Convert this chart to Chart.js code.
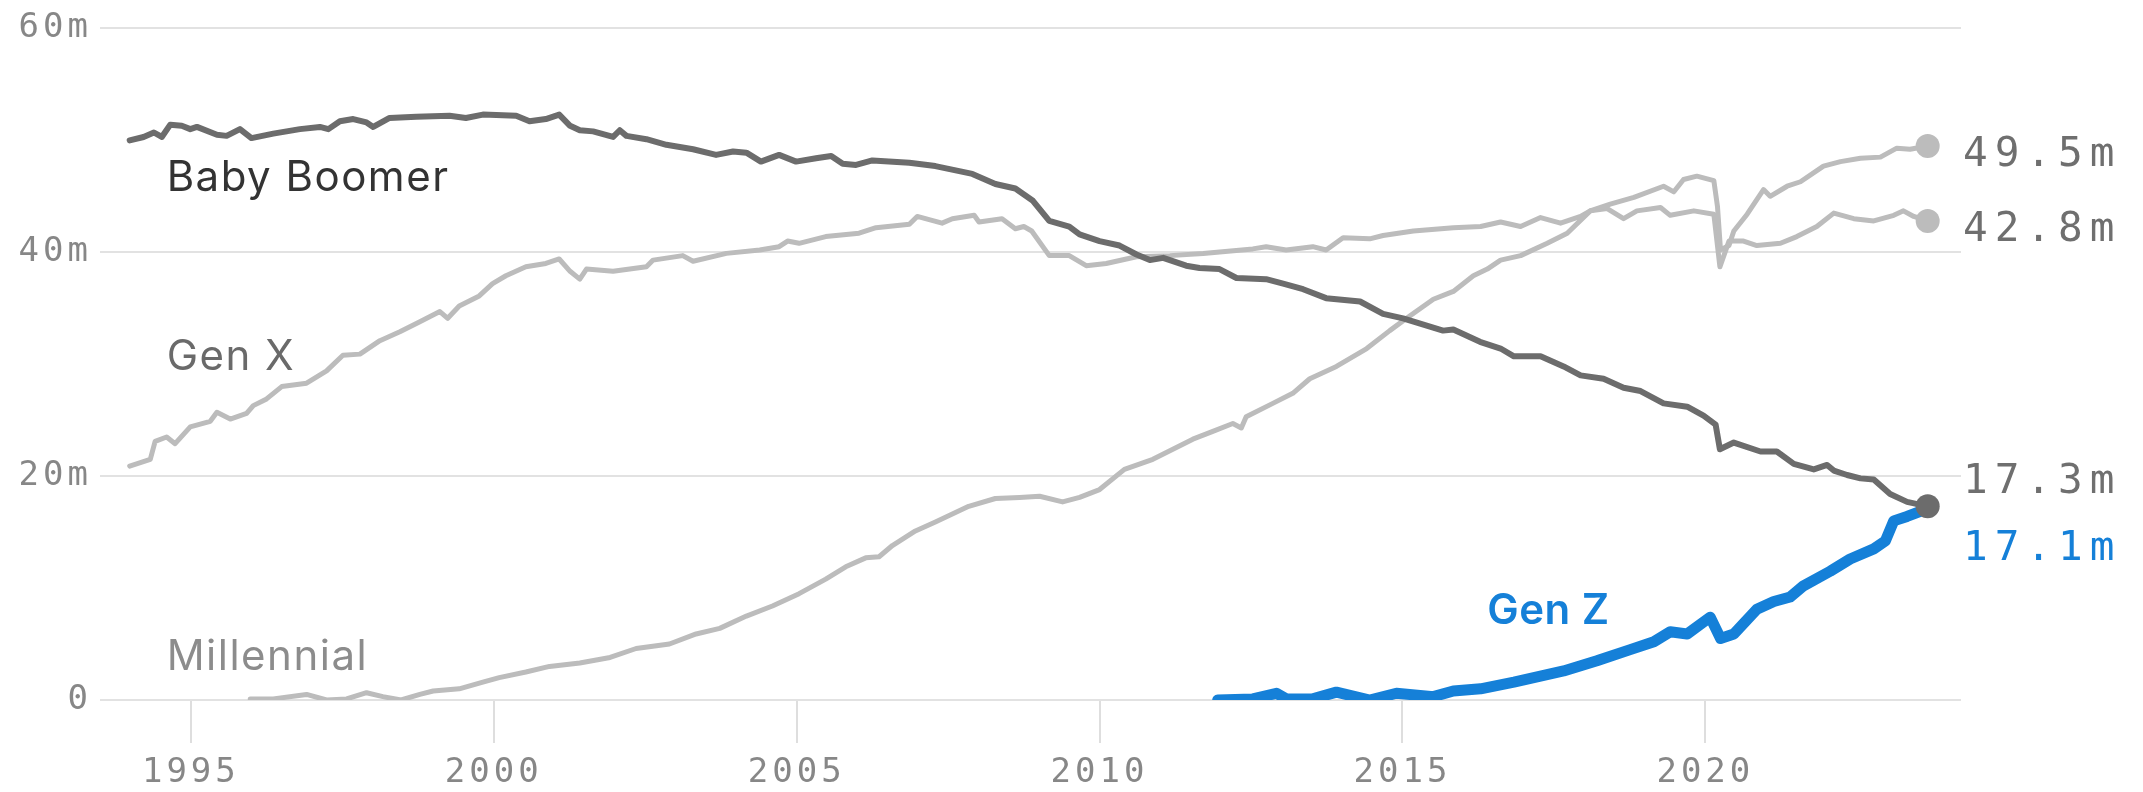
<!DOCTYPE html>
<html>
<head>
<meta charset="utf-8">
<title>Workers by generation</title>
<script src="https://cdn.jsdelivr.net/npm/chart.js@4/dist/chart.umd.min.js"></script>
<style>
  html, body { margin: 0; padding: 0; background: #ffffff; }
  canvas { display: block; }
</style>
</head>
<body>
<canvas id="chart" width="2143" height="792"></canvas>
<script>
// Employed people by generation, millions (fractional years on x)
const boomerYears = [1993.99, 1994.22, 1994.39, 1994.52, 1994.66, 1994.85, 1994.99, 1995.10, 1995.43, 1995.59,
  1995.81, 1996.00, 1996.36, 1996.80, 1997.13, 1997.27, 1997.46, 1997.68, 1997.90, 1998.01,
  1998.28, 1998.72, 1999.27, 1999.54, 1999.82, 2000.37, 2000.59, 2000.86, 2001.08, 2001.26,
  2001.42, 2001.64, 2001.97, 2002.08, 2002.19, 2002.52, 2002.85, 2003.29, 2003.67, 2003.95,
  2004.17, 2004.41, 2004.71, 2004.99, 2005.32, 2005.57, 2005.76, 2005.98, 2006.25, 2006.86,
  2007.29, 2007.90, 2008.28, 2008.61, 2008.90, 2009.17, 2009.50, 2009.67, 2010.00, 2010.33,
  2010.61, 2010.83, 2011.05, 2011.43, 2011.65, 2011.98, 2012.26, 2012.75, 2013.03, 2013.36,
  2013.74, 2014.30, 2014.68, 2015.01, 2015.67, 2015.84, 2016.28, 2016.62, 2016.84, 2017.28,
  2017.66, 2017.94, 2018.32, 2018.65, 2018.93, 2019.31, 2019.70, 2019.97, 2020.17, 2020.24,
  2020.47, 2020.91, 2021.18, 2021.46, 2021.79, 2022.01, 2022.12, 2022.34, 2022.56, 2022.78,
  2023.05, 2023.33, 2023.67];
const boomerValues = [50.0, 50.3, 50.7, 50.3, 51.4, 51.3, 51.0, 51.2, 50.5, 50.4,
  51.0, 50.2, 50.6, 51.0, 51.2, 51.0, 51.7, 51.9, 51.6, 51.2,
  52.0, 52.1, 52.2, 52.0, 52.3, 52.2, 51.7, 51.9, 52.3, 51.3,
  50.9, 50.8, 50.3, 50.9, 50.4, 50.1, 49.6, 49.2, 48.7, 49.0,
  48.9, 48.1, 48.7, 48.1, 48.4, 48.6, 47.9, 47.8, 48.2, 48.0,
  47.7, 47.0, 46.1, 45.7, 44.6, 42.8, 42.3, 41.6, 41.0, 40.6,
  39.8, 39.3, 39.5, 38.8, 38.6, 38.5, 37.7, 37.6, 37.2, 36.7,
  35.9, 35.6, 34.5, 34.1, 33.0, 33.1, 32.0, 31.4, 30.7, 30.7,
  29.8, 29.0, 28.7, 27.9, 27.6, 26.5, 26.2, 25.4, 24.6, 22.4,
  23.0, 22.2, 22.2, 21.1, 20.6, 21.0, 20.5, 20.1, 19.8, 19.7,
  18.4, 17.7, 17.3];

const genXYears = [1993.99, 1994.33, 1994.41, 1994.60, 1994.74, 1994.99, 1995.32, 1995.43, 1995.65, 1995.92,
  1996.03, 1996.25, 1996.50, 1996.91, 1997.24, 1997.51, 1997.79, 1998.12, 1998.45, 1998.78,
  1999.11, 1999.24, 1999.43, 1999.76, 1999.98, 2000.20, 2000.53, 2000.86, 2001.08, 2001.26,
  2001.42, 2001.53, 2001.97, 2002.52, 2002.63, 2003.12, 2003.29, 2003.84, 2004.39, 2004.71,
  2004.85, 2005.04, 2005.48, 2006.03, 2006.31, 2006.86, 2006.99, 2007.40, 2007.57, 2007.93,
  2008.01, 2008.39, 2008.61, 2008.75, 2008.88, 2009.17, 2009.50, 2009.78, 2010.11, 2010.61,
  2011.16, 2011.71, 2012.53, 2012.75, 2013.08, 2013.52, 2013.74, 2014.02, 2014.46, 2014.68,
  2015.18, 2015.84, 2016.29, 2016.62, 2016.95, 2017.28, 2017.61, 2017.94, 2018.10, 2018.38,
  2018.65, 2018.87, 2019.26, 2019.42, 2019.81, 2020.14, 2020.24, 2020.39, 2020.63, 2020.85,
  2021.24, 2021.51, 2021.84, 2022.12, 2022.45, 2022.78, 2023.11, 2023.27, 2023.44, 2023.67];
const genXValues = [20.9, 21.5, 23.1, 23.5, 22.9, 24.4, 24.9, 25.7, 25.1, 25.6,
  26.3, 26.9, 28.0, 28.3, 29.4, 30.8, 30.9, 32.1, 32.9, 33.8,
  34.7, 34.1, 35.2, 36.1, 37.2, 37.9, 38.7, 39.0, 39.4, 38.3,
  37.6, 38.5, 38.3, 38.7, 39.3, 39.7, 39.2, 39.9, 40.2, 40.5,
  41.0, 40.8, 41.4, 41.7, 42.2, 42.5, 43.2, 42.6, 43.0, 43.3,
  42.7, 43.0, 42.1, 42.3, 41.9, 39.7, 39.7, 38.8, 39.0, 39.6,
  39.7, 39.9, 40.3, 40.5, 40.2, 40.5, 40.2, 41.3, 41.2, 41.5,
  41.9, 42.2, 42.3, 42.7, 42.3, 43.1, 42.6, 43.2, 43.7, 43.9,
  43.0, 43.7, 44.0, 43.3, 43.7, 43.4, 38.7, 41.0, 41.0, 40.6,
  40.8, 41.4, 42.3, 43.5, 43.0, 42.8, 43.3, 43.7, 43.2, 42.8];

const millennialYears = [1995.98, 1996.36, 1996.91, 1997.24, 1997.57, 1997.90, 1998.17, 1998.47, 1998.78, 1999.00,
  1999.43, 1999.82, 2000.09, 2000.53, 2000.92, 2001.42, 2001.92, 2002.35, 2002.90, 2003.34,
  2003.73, 2004.17, 2004.60, 2005.04, 2005.48, 2005.81, 2006.14, 2006.36, 2006.58, 2006.96,
  2007.29, 2007.84, 2008.28, 2008.68, 2009.01, 2009.39, 2009.67, 2010.00, 2010.41, 2010.88,
  2011.21, 2011.54, 2011.87, 2012.20, 2012.34, 2012.42, 2012.86, 2013.19, 2013.47, 2013.91,
  2014.41, 2014.79, 2015.12, 2015.51, 2015.84, 2016.17, 2016.40, 2016.62, 2016.95, 2017.39,
  2017.72, 2018.10, 2018.43, 2018.82, 2019.31, 2019.48, 2019.64, 2019.86, 2020.14, 2020.20,
  2020.25, 2020.39, 2020.47, 2020.69, 2020.96, 2021.07, 2021.35, 2021.57, 2021.95, 2022.23,
  2022.56, 2022.89, 2023.16, 2023.38, 2023.67];
const millennialValues = [0.1, 0.1, 0.5, 0.0, 0.1, 0.65, 0.3, 0.0, 0.5, 0.8,
  1.0, 1.6, 2.0, 2.5, 3.0, 3.3, 3.8, 4.6, 5.0, 5.9,
  6.4, 7.5, 8.4, 9.5, 10.8, 11.9, 12.7, 12.8, 13.8, 15.1,
  15.9, 17.3, 18.0, 18.1, 18.2, 17.7, 18.1, 18.8, 20.6, 21.5,
  22.4, 23.3, 24.0, 24.7, 24.3, 25.3, 26.5, 27.4, 28.7, 29.8,
  31.4, 33.0, 34.3, 35.8, 36.5, 37.9, 38.5, 39.3, 39.7, 40.8,
  41.7, 43.7, 44.3, 44.9, 45.9, 45.4, 46.5, 46.8, 46.4, 44.1,
  40.2, 40.6, 41.9, 43.4, 45.6, 45.0, 45.9, 46.3, 47.7, 48.1,
  48.4, 48.5, 49.3, 49.2, 49.5];

const genZYears = [2011.95, 2012.53, 2012.92, 2013.08, 2013.52, 2013.91, 2014.46, 2014.90, 2015.51, 2015.84,
  2016.29, 2016.84, 2017.66, 2018.21, 2018.76, 2019.15, 2019.42, 2019.70, 2020.08, 2020.25,
  2020.47, 2020.85, 2021.13, 2021.40, 2021.62, 2022.06, 2022.39, 2022.78, 2022.97, 2023.11,
  2023.33, 2023.67];
const genZValues = [0.0, 0.1, 0.6, 0.1, 0.1, 0.7, 0.0, 0.6, 0.3, 0.8,
  1.0, 1.6, 2.6, 3.5, 4.5, 5.2, 6.1, 5.9, 7.4, 5.5,
  5.9, 8.1, 8.8, 9.2, 10.2, 11.5, 12.6, 13.5, 14.2, 16.0,
  16.4, 17.1];

const seriesNames = ['Baby Boomer', 'Gen X', 'Millennial', 'Gen Z'];
const yearTicks = [1995, 2000, 2005, 2010, 2015, 2020];
const valueTicks = [0, 20, 40, 60];

const GREY_DARK = '#6c6c6c';
const GREY_LIGHT = '#bcbcbc';
const BLUE = '#1580d8';
const MONO = "'DejaVu Sans Mono', monospace";
const SANS = "Inter, 'Noto Sans', sans-serif";

function toPoints(xs, ys) {
  return xs.map((x, i) => ({ x: x, y: ys[i] }));
}

// Dot on the final reading only
function lastPointRadius(r) {
  return ctx => (ctx.dataIndex === ctx.dataset.data.length - 1 ? r : 0);
}

// Name tags placed in data space, and the end-of-line value tags
const nameTags = [
  { text: seriesNames[0], year: 1994.60, value: 45.44, color: '#333333', weight: 400, spacing: 1.5 },
  { text: seriesNames[1], year: 1994.60, value: 29.49, color: '#6a6a6a', weight: 400, spacing: 1.5 },
  { text: seriesNames[2], year: 1994.60, value: 2.68, color: '#8c8c8c', weight: 400, spacing: 1.5 },
  { text: seriesNames[3], year: 2016.40, value: 6.83, color: BLUE, weight: 600, spacing: 0.5 }
];
const endTagOffsets = { 'Baby Boomer': -13, 'Gen X': 20, 'Millennial': 20.5, 'Gen Z': 51 };
const endTagColors = { 'Baby Boomer': '#6f6f6f', 'Gen X': '#6f6f6f', 'Millennial': '#6f6f6f', 'Gen Z': BLUE };

const axisSpacing = {
  id: 'axisSpacing',
  beforeDraw(chart) { chart.ctx.letterSpacing = '4px'; }
};

const annotations = {
  id: 'annotations',
  afterDraw(chart) {
    const ctx = chart.ctx;
    const xs = chart.scales.x, ys = chart.scales.y;
    ctx.save();
    ctx.textAlign = 'left';
    ctx.textBaseline = 'alphabetic';
    nameTags.forEach(t => {
      ctx.letterSpacing = t.spacing + 'px';
      ctx.font = t.weight + ' 42px ' + SANS;
      ctx.fillStyle = t.color;
      ctx.fillText(t.text, xs.getPixelForValue(t.year), ys.getPixelForValue(t.value));
    });
    ctx.letterSpacing = '7px';
    ctx.font = '41px ' + MONO;
    chart.data.datasets.forEach((ds, i) => {
      const meta = chart.getDatasetMeta(i);
      const last = meta.data[meta.data.length - 1];
      const v = ds.data[ds.data.length - 1].y;
      ctx.fillStyle = endTagColors[ds.label];
      ctx.fillText(v.toFixed(1) + 'm', chart.chartArea.right + 2, last.y + endTagOffsets[ds.label]);
    });
    ctx.restore();
  }
};

new Chart(document.getElementById('chart'), {
  type: 'line',
  data: {
    datasets: [
      {
        label: seriesNames[0], data: toPoints(boomerYears, boomerValues), order: 0,
        borderColor: GREY_DARK, borderWidth: 6, backgroundColor: GREY_DARK,
        pointRadius: lastPointRadius(12), pointBorderWidth: 0
      },
      {
        label: seriesNames[1], data: toPoints(genXYears, genXValues), order: 3,
        borderColor: GREY_LIGHT, borderWidth: 5, backgroundColor: GREY_LIGHT,
        pointRadius: lastPointRadius(12), pointBorderWidth: 0
      },
      {
        label: seriesNames[2], data: toPoints(millennialYears, millennialValues), order: 2,
        borderColor: GREY_LIGHT, borderWidth: 5, backgroundColor: GREY_LIGHT,
        pointRadius: lastPointRadius(12), pointBorderWidth: 0
      },
      {
        label: seriesNames[3], data: toPoints(genZYears, genZValues), order: 1,
        borderColor: BLUE, borderWidth: 11, backgroundColor: BLUE,
        pointRadius: 0
      }
    ]
  },
  options: {
    responsive: false,
    devicePixelRatio: 1,
    animation: false,
    events: [],
    elements: { line: { tension: 0, borderJoinStyle: 'round', borderCapStyle: 'round', fill: false } },
    layout: { padding: { top: 23, right: 182, bottom: 0, left: 0 } },
    plugins: { legend: { display: false }, tooltip: { enabled: false } },
    scales: {
      x: {
        type: 'linear',
        min: 1993.5,
        max: 2024.22,
        afterBuildTicks: s => { s.ticks = yearTicks.map(v => ({ value: v })); },
        afterFit: s => { s.height = 92; },
        grid: { drawOnChartArea: false, drawTicks: true, tickLength: 43, color: '#dedede', lineWidth: 2 },
        border: { display: false },
        ticks: {
          padding: 10, color: '#878787', maxRotation: 0, autoSkip: false,
          font: { family: MONO, size: 34 },
          callback: v => String(v)
        }
      },
      y: {
        min: 0,
        max: 60,
        afterBuildTicks: s => { s.ticks = valueTicks.map(v => ({ value: v })); },
        afterFit: s => { s.width = 100; },
        grid: { color: '#e2e2e2', lineWidth: 2, drawTicks: false },
        border: { display: false },
        ticks: {
          padding: 8, color: '#878787',
          font: { family: MONO, size: 34 },
          callback: v => (v === 0 ? '0' : v + 'm')
        }
      }
    }
  },
  plugins: [axisSpacing, annotations]
});
</script>
</body>
</html>
